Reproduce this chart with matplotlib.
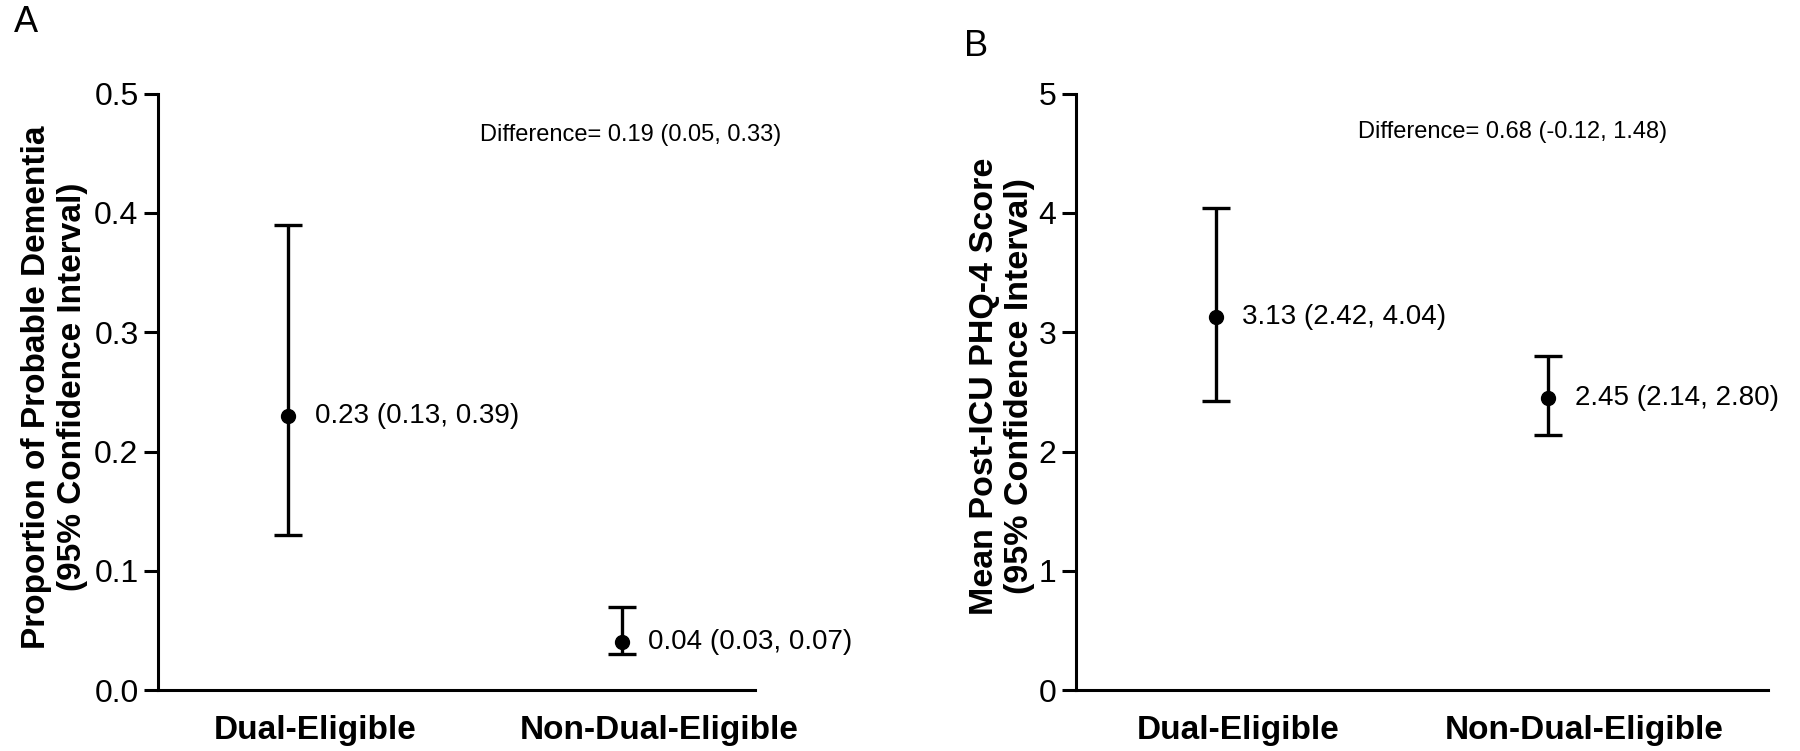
import matplotlib
matplotlib.use("Agg")
import matplotlib.pyplot as plt

plt.rcParams['font.family'] = ['Liberation Sans', 'DejaVu Sans']

groups = ['Dual-Eligible', 'Non-Dual-Eligible']

# panel A: proportion of probable dementia
dem_est = [0.23, 0.04]
dem_lo = [0.13, 0.03]
dem_hi = [0.39, 0.07]
dem_diff = 'Difference= 0.19 (0.05, 0.33)'
dem_ticks = ['0.0', '0.1', '0.2', '0.3', '0.4', '0.5']

# panel B: mean post-ICU PHQ-4 score
phq_est = [3.13, 2.45]
phq_lo = [2.42, 2.14]
phq_hi = [4.04, 2.80]
phq_diff = 'Difference= 0.68 (-0.12, 1.48)'
phq_ticks = ['0', '1', '2', '3', '4', '5']

fig = plt.figure(figsize=(18, 7.51), dpi=100)
axA = fig.add_axes([0.0878, 0.0812, 0.3317, 0.794])
axB = fig.add_axes([0.5978, 0.0812, 0.3844, 0.794])


def panel(ax, est, lo, hi, diff, ticks, ylabel, ylab_size, xlim, label_x, diff_xy, ylab_xy):
    xs = [0, 1]
    yerr = [[e - l for e, l in zip(est, lo)], [h - e for e, h in zip(est, hi)]]
    ax.errorbar(xs, est, yerr=yerr, fmt='o', color='black', ms=10,
                elinewidth=2.4, capsize=10, capthick=2.4)
    for x, e, l, h in zip(xs, est, lo, hi):
        ax.annotate(f'{e:.2f} ({l:.2f}, {h:.2f})', (x, e), xytext=(19, 0),
                    textcoords='offset points', va='center', ha='left', fontsize=20)
    ax.set_xlim(*xlim)
    yt = [float(t) for t in ticks]
    ax.set_ylim(yt[0], yt[-1])
    ax.set_yticks(yt)
    ax.set_yticklabels(ticks)
    ax.set_xticks(label_x)
    ax.set_xticklabels(groups, fontsize=24, fontweight='bold')
    ax.tick_params(axis='x', length=0, pad=18)
    ax.tick_params(axis='y', length=10, width=2.2, labelsize=23, pad=4)
    for s in ['top', 'right']:
        ax.spines[s].set_visible(False)
    for s in ['left', 'bottom']:
        ax.spines[s].set_linewidth(2.2)
    ax.set_ylabel(ylabel, fontsize=ylab_size, fontweight='bold', va='center', ha='center',
                  linespacing=1.2)
    ax.yaxis.set_label_coords(*ylab_xy)
    ax.text(diff_xy[0], diff_xy[1], diff, transform=ax.transAxes, ha='left', va='center',
            fontsize=17, clip_on=False)


panel(axA, dem_est, dem_lo, dem_hi, dem_diff, dem_ticks,
      'Proportion of Probable Dementia\n(95% Confidence Interval)', 24,
      (-0.39, 1.4), [0.081, 1.112], (0.539, 0.931), (-0.174, 0.508))

panel(axB, phq_est, phq_lo, phq_hi, phq_diff, phq_ticks,
      'Mean Post-ICU PHQ-4 Score\n(95% Confidence Interval)', 24.5,
      (-0.42, 1.66), [0.067, 1.107], (0.408, 0.936), (-0.107, 0.51))

fig.text(14 / 1800, 1 - 22 / 751, 'A', fontsize=26, ha='left', va='center')
fig.text(964 / 1800, 1 - 46 / 751, 'B', fontsize=26, ha='left', va='center')

fig.savefig('out.png', dpi=100)
